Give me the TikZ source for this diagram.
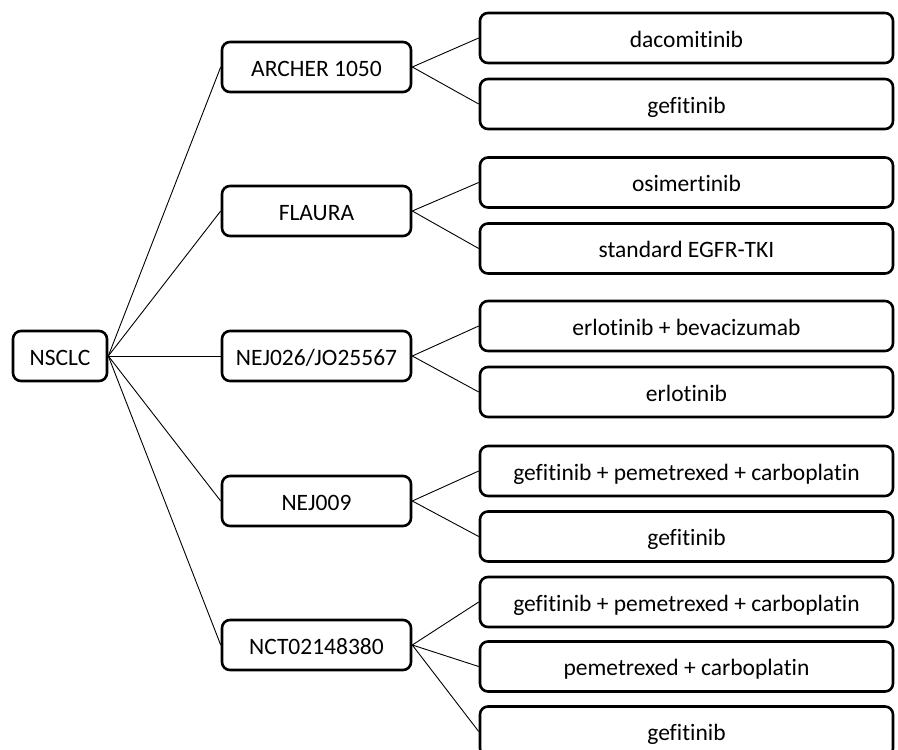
\documentclass[tikz,border=0pt]{standalone}
\usepackage{fontspec}
\setmainfont[Ligatures={NoCommon}]{Carlito}
\begin{document}
\begin{tikzpicture}[x=1pt,y=-1pt,
  box/.style={draw=black,line width=2.6pt,rounded corners=8pt,fill=white,
    inner sep=0pt,font=\fontsize{23.5}{28}\selectfont,text height=19pt,text depth=1pt},
  root/.style={box,minimum width=94pt,minimum height=50pt},
  trial/.style={box,minimum width=189pt,minimum height=50pt},
  arm/.style={box,minimum width=413pt,minimum height=50pt},
  link/.style={draw=black,line width=0.9pt}]
\useasboundingbox (0,0) rectangle (898,750);
\clip (0,0) rectangle (898,750);
\fill[white] (0,0) rectangle (898,750);
\node[root] (n) at (60,356) {NSCLC};
\node[trial] (t1) at (316.5,67) {ARCHER 1050};
\node[trial] (t2) at (316.5,211) {FLAURA};
\node[trial] (t3) at (316.5,356) {NEJ026/JO25567};
\node[trial] (t4) at (316.5,501) {NEJ009};
\node[trial] (t5) at (316.5,645) {NCT02148380};
\node[arm] (a1) at (686.5,38) {dacomitinib};
\node[arm] (a2) at (686.5,104) {gefitinib};
\node[arm] (a3) at (686.5,182.5) {osimertinib};
\node[arm] (a4) at (686.5,248.5) {standard EGFR-TKI};
\node[arm] (a5) at (686.5,326) {erlotinib + bevacizumab};
\node[arm] (a6) at (686.5,392) {erlotinib};
\node[arm] (a7) at (686.5,471) {gefitinib + pemetrexed + carboplatin};
\node[arm] (a8) at (686.5,536.5) {gefitinib};
\node[arm] (a9) at (686.5,602) {gefitinib + pemetrexed + carboplatin};
\node[arm] (a10) at (686.5,666.5) {pemetrexed + carboplatin};
\node[arm] (a11) at (686.5,731.5) {gefitinib};
\foreach \t in {t1,t2,t3,t4,t5} \draw[link] (n.east) -- (\t.west);
\draw[link] (t1.east) -- (a1.west);
\draw[link] (t1.east) -- (a2.west);
\draw[link] (t2.east) -- (a3.west);
\draw[link] (t2.east) -- (a4.west);
\draw[link] (t3.east) -- (a5.west);
\draw[link] (t3.east) -- (a6.west);
\draw[link] (t4.east) -- (a7.west);
\draw[link] (t4.east) -- (a8.west);
\draw[link] (t5.east) -- (a9.west);
\draw[link] (t5.east) -- (a10.west);
\draw[link] (t5.east) -- (a11.west);
\end{tikzpicture}
\end{document}
